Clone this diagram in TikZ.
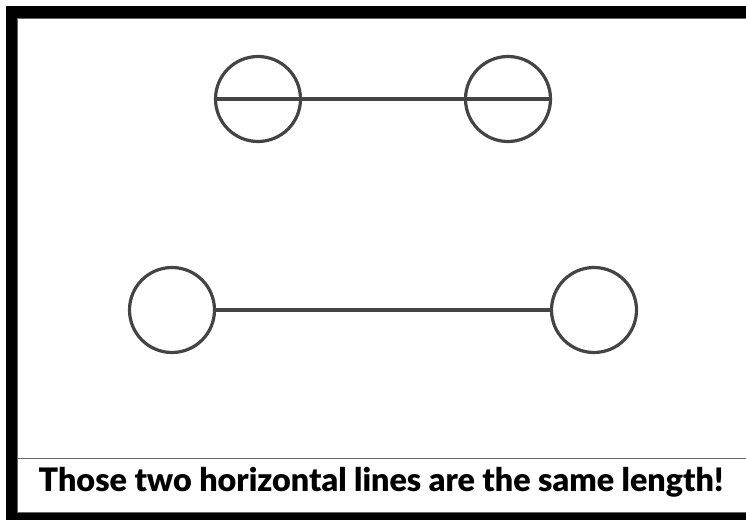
\documentclass[tikz,border=0pt]{standalone}
\usepackage{fontspec}
\setmainfont{Lato}
\newfontfamily\heavyfont{Lato Black}
\tikzset{
  ring/.style={circle, draw=ringgray, line width=3.2pt, minimum size=85pt, inner sep=0pt},
  bar/.style={draw=ringgray, line width=3.2pt},
  caption/.style={font=\heavyfont\fontsize{32.3}{38}\selectfont, anchor=base, inner sep=0pt}
}
\definecolor{ringgray}{HTML}{444444}
\definecolor{edgegray}{HTML}{666666}
\begin{document}
\begin{tikzpicture}[x=1pt,y=1pt]
  \useasboundingbox (0,0) rectangle (746,520);
  % frame: heavy top and left bars, bottom bar, separator above the caption
  \fill[black] (6,520-6) rectangle (746,520-18);
  \fill[black] (6,520-6) rectangle (17,0);
  \fill[black] (6,0) rectangle (746,7);
  \draw[edgegray, line width=1pt] (17,520-18.5) -- (746,520-18.5);
  \draw[edgegray, line width=1pt] (17.5,520-18) -- (17.5,7);
  \draw[edgegray, line width=1pt] (17,520-458) -- (746,520-458);
  \draw[edgegray, line width=1pt] (17,7.5) -- (746,7.5);

  % upper figure: line through both circles
  \node[ring] (ul) at (258,520-99) {};
  \node[ring] (ur) at (508,520-99) {};
  \draw[bar] (ul.west) -- (ur.east);

  % lower figure: line between the circles
  \node[ring] (ll) at (172,520-310) {};
  \node[ring] (lr) at (594,520-310) {};
  \draw[bar] (ll.east) -- (lr.west);

  \node[caption] (cap) at (381,520-491) {Those two horizontal lines are the same length!};
\end{tikzpicture}
\end{document}
